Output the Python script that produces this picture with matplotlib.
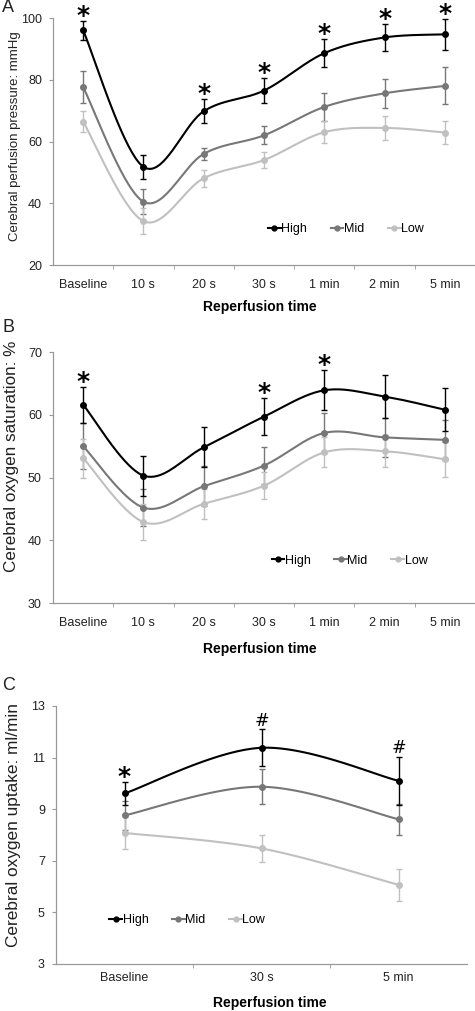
import numpy as np
import matplotlib
matplotlib.use("Agg")
import matplotlib.pyplot as plt
from matplotlib.lines import Line2D

plt.rcParams['font.family'] = ['Liberation Sans', 'DejaVu Sans']

# ---------------- data ----------------
cats_ab = ["Baseline", "10 s", "20 s", "30 s", "1 min", "2 min", "5 min"]
cats_c = ["Baseline", "30 s", "5 min"]
groups = ["High", "Mid", "Low"]

cpp_high = [96.0, 51.8, 69.8, 76.5, 88.6, 93.7, 94.7]
cpp_high_err = [3.0, 3.8, 3.9, 4.0, 4.5, 4.4, 5.0]
cpp_mid = [77.6, 40.5, 56.0, 62.0, 71.2, 75.6, 78.0]
cpp_mid_err = [5.2, 4.0, 1.9, 2.9, 4.6, 4.8, 6.0]
cpp_low = [66.4, 34.2, 48.1, 54.0, 63.0, 64.4, 62.9]
cpp_low_err = [3.4, 4.2, 2.8, 2.7, 3.6, 4.0, 3.7]
cpp_marks = ["*", "", "*", "*", "*", "*", "*"]

so2_high = [61.6, 50.3, 54.8, 59.7, 63.9, 62.9, 60.8]
so2_high_err = [2.9, 3.2, 3.2, 3.0, 3.2, 3.4, 3.4]
so2_mid = [55.0, 45.2, 48.6, 51.9, 57.1, 56.4, 56.0]
so2_mid_err = [3.7, 3.0, 3.2, 3.0, 3.2, 3.1, 3.2]
so2_low = [53.1, 42.9, 45.8, 48.7, 54.0, 54.2, 52.9]
so2_low_err = [3.1, 2.9, 2.4, 2.2, 2.4, 2.6, 2.8]
so2_marks = ["*", "", "", "*", "*", "", ""]

vo2_high = [9.61, 11.38, 10.10]
vo2_high_err = [0.46, 0.72, 0.93]
vo2_mid = [8.76, 9.87, 8.61]
vo2_mid_err = [0.55, 0.67, 0.60]
vo2_low = [8.08, 7.48, 6.07]
vo2_low_err = [0.63, 0.53, 0.63]
vo2_marks = ["*", "#", "#"]

colors = {"High": "#000000", "Mid": "#777777", "Low": "#c0c0c0"}

W, H = 475, 1011
fig = plt.figure(figsize=(W / 100, H / 100), dpi=100)


def px_axes(left, top, right, bottom):
    return fig.add_axes([left / W, 1 - bottom / H, (right - left) / W, (bottom - top) / H])


def smooth(y, n=40):
    """Catmull-Rom (Excel-style) smoothed curve through the points."""
    x = np.arange(len(y), dtype=float)
    P = np.column_stack([x, np.asarray(y, float)])
    xs, ys = [], []
    for i in range(len(P) - 1):
        p0 = P[i - 1] if i > 0 else P[i]
        p1, p2 = P[i], P[i + 1]
        p3 = P[i + 2] if i + 2 < len(P) else P[i + 1]
        c1 = p1 + (p2 - p0) / 6
        c2 = p2 - (p3 - p1) / 6
        t = np.linspace(0, 1, n)[:, None]
        b = (1 - t) ** 3 * p1 + 3 * (1 - t) ** 2 * t * c1 + 3 * (1 - t) * t ** 2 * c2 + t ** 3 * p2
        xs.append(b[:, 0]); ys.append(b[:, 1])
    return np.concatenate(xs), np.concatenate(ys)


def draw_panel(ax, cats, series, errs, marks, ylim, yticks, ylabel, ylabel_size,
               leg_anchor, xpad):
    x = np.arange(len(cats))
    for g, vals, e in zip(groups, series, errs):
        c = colors[g]
        z = 3 if g == "High" else 2
        sx, sy = smooth(vals)
        ax.plot(sx, sy, color=c, lw=1.5, zorder=z)
        ax.errorbar(x, vals, yerr=e, fmt="o", color=c, ms=4, elinewidth=1.0,
                    capsize=2.2, capthick=1.0, zorder=z)
    hv, he = series[0], errs[0]
    for xi, v, e, m in zip(x, hv, he, marks):
        if m == "*":
            ax.annotate(m, (xi, v + e), xytext=(0, -1.5), textcoords="offset points",
                        ha="center", va="baseline", fontsize=18, fontweight="bold",
                        family="DejaVu Sans", color="black")
        elif m == "#":
            ax.annotate(m, (xi, v + e), xytext=(0, 2.5), textcoords="offset points",
                        ha="center", va="baseline", fontsize=12.5,
                        family="DejaVu Sans", color="black")
    ax.set_xlim(-0.5, len(cats) - 0.5)
    ax.set_ylim(*ylim)
    ax.set_yticks(yticks)
    ax.set_xticks(x)
    ax.set_xticklabels(cats)
    ax.set_xticks(np.arange(len(cats) - 1) + 0.5, minor=True)
    ax.tick_params(axis="x", which="major", length=0, pad=xpad, labelsize=9, labelcolor="#222222")
    ax.tick_params(axis="x", which="minor", length=3, direction="out", color="#999999")
    ax.tick_params(axis="y", length=3, direction="out", color="#999999", pad=5,
                   labelsize=9, labelcolor="#222222")
    for s in ["top", "right"]:
        ax.spines[s].set_visible(False)
    for s in ["left", "bottom"]:
        ax.spines[s].set_color("#999999")
        ax.spines[s].set_linewidth(0.9)
    ax.set_xlabel("Reperfusion time", fontsize=10, fontweight="bold", va="center")
    ax.set_ylabel(ylabel, fontsize=ylabel_size, color="#222222")
    handles = [Line2D([0], [0], color=colors[g], lw=1.5, marker="o", ms=3.5) for g in groups]
    ax.legend(handles, groups, ncol=3, frameon=False, loc="center left",
              bbox_to_anchor=leg_anchor, fontsize=9, handlelength=1.0,
              handletextpad=0.05, columnspacing=1.9, borderaxespad=0, borderpad=0)


# Panel A
axA = px_axes(53, 18, 475, 265)
draw_panel(axA, cats_ab, [cpp_high, cpp_mid, cpp_low],
           [cpp_high_err, cpp_mid_err, cpp_low_err], cpp_marks,
           (20, 100), [20, 40, 60, 80, 100], "Cerebral perfusion pressure: mmHg", 9.5,
           (0.51, 0.146), 10)
axA.yaxis.set_label_coords(-0.077, 0.52)
axA.xaxis.set_label_coords(0.49, -0.17)

# Panel B
axB = px_axes(53, 352, 475, 603)
draw_panel(axB, cats_ab, [so2_high, so2_mid, so2_low],
           [so2_high_err, so2_mid_err, so2_low_err], so2_marks,
           (30, 70), [30, 40, 50, 60, 70], "Cerebral oxygen saturation: %", 12.3,
           (0.518, 0.168), 10)
axB.yaxis.set_label_coords(-0.081, 0.585)
axB.xaxis.set_label_coords(0.49, -0.185)

# Panel C
axC = px_axes(56, 706, 467, 964)
draw_panel(axC, cats_c, [vo2_high, vo2_mid, vo2_low],
           [vo2_high_err, vo2_mid_err, vo2_low_err], vo2_marks,
           (3, 13), [3, 5, 7, 9, 11, 13], "Cerebral oxygen uptake: ml/min", 12.4,
           (0.13, 0.171), 6)
axC.yaxis.set_label_coords(-0.085, 0.54)
axC.xaxis.set_label_coords(0.52, -0.15)

for lab, yy in [("A", 7), ("B", 328), ("C", 685)]:
    fig.text(2 / W, 1 - yy / H, lab, fontsize=13, va="center", ha="left", color="#222222")

fig.savefig("out.png", dpi=100)
